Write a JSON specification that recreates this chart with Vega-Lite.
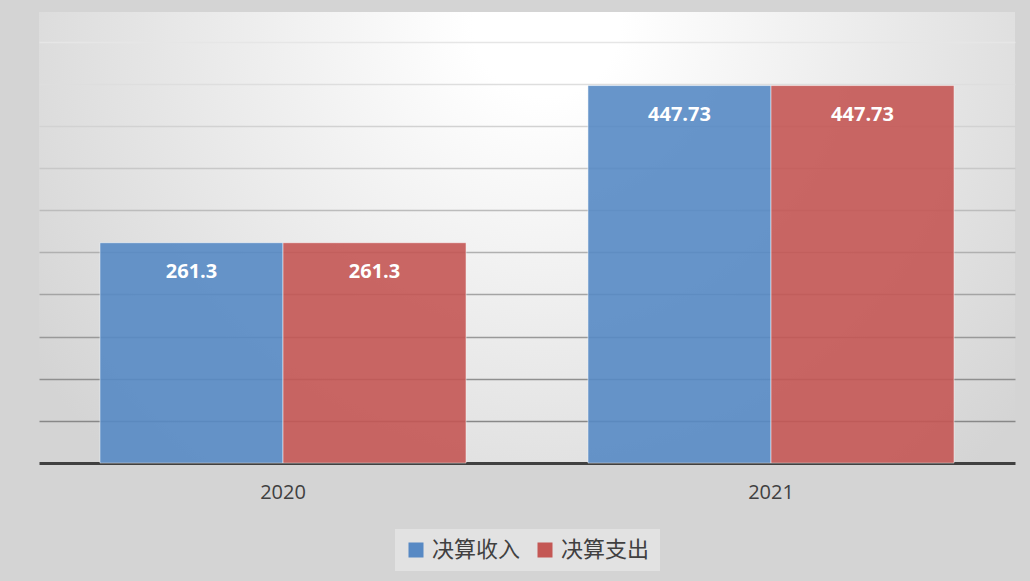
{
  "$schema": "https://vega.github.io/schema/vega-lite/v6.json",
  "autosize": {"type": "none"},
  "padding": {"left": 39, "top": 12, "right": 15, "bottom": 118},
  "width": 976,
  "height": 451,
  "background": "#d4d4d4",
  "data": {
    "values": [
      {"year": "2020", "type": "决算收入", "value": 261.3},
      {"year": "2020", "type": "决算支出", "value": 261.3},
      {"year": "2021", "type": "决算收入", "value": 447.73},
      {"year": "2021", "type": "决算支出", "value": 447.73}
    ]
  },
  "encoding": {
    "x": {
      "field": "year", "type": "nominal",
      "scale": {"paddingInner": 0, "paddingOuter": 0},
      "axis": {
        "title": null, "labelAngle": 0, "ticks": false,
        "domain": true, "domainColor": "#404040", "domainWidth": 3,
        "labelFont": "Open Sans", "labelFontSize": 20, "labelColor": "#404040",
        "labelPadding": 19, "grid": false
      }
    },
    "xOffset": {
      "field": "type", "type": "nominal",
      "scale": {"domain": ["决算收入", "决算支出"], "paddingInner": 0, "paddingOuter": 0.333}
    },
    "y": {
      "field": "value", "type": "quantitative",
      "scale": {"domain": [0, 535], "nice": false, "zero": true},
      "axis": {
        "title": null, "labels": false, "ticks": false, "domain": false,
        "minExtent": 0, "maxExtent": 0,
        "values": [50, 100, 150, 200, 250, 300, 350, 400, 450, 500],
        "grid": true, "gridWidth": 1.5,
        "gridColor": {
          "condition": [
            {"test": "datum.value >= 500", "value": "#e6e6e6"},
            {"test": "datum.value >= 450", "value": "#dedede"},
            {"test": "datum.value >= 400", "value": "#d2d2d2"},
            {"test": "datum.value >= 350", "value": "#c8c8c8"},
            {"test": "datum.value >= 300", "value": "#bcbcbc"},
            {"test": "datum.value >= 250", "value": "#b0b0b0"},
            {"test": "datum.value >= 200", "value": "#a4a4a4"},
            {"test": "datum.value >= 150", "value": "#999999"},
            {"test": "datum.value >= 100", "value": "#8f8f8f"}
          ],
          "value": "#888888"
        }
      }
    }
  },
  "layer": [
    {
      "mark": {"type": "bar", "fillOpacity": 0.9, "stroke": "#ffffff", "strokeOpacity": 0.5, "strokeWidth": 1},
      "encoding": {
        "color": {
          "field": "type", "type": "nominal",
          "scale": {"domain": ["决算收入", "决算支出"], "range": ["#5789C4", "#C45754"]},
          "legend": {
            "title": null, "orient": "none", "legendX": 356, "legendY": 517,
            "direction": "horizontal",
            "fillColor": "#e2e2e2", "padding": 10,
            "symbolType": "square", "symbolSize": 225, "symbolStrokeWidth": 0, "symbolOpacity": 1,
            "labelFont": "Noto Sans CJK SC", "labelFontSize": 22, "labelColor": "#404040",
            "labelOffset": 5, "columnPadding": 13
          }
        }
      }
    },
    {
      "mark": {"type": "text", "color": "#ffffff", "font": "Open Sans", "fontSize": 20, "fontWeight": "bold", "baseline": "middle", "dy": 29},
      "encoding": {
        "text": {"field": "value", "type": "quantitative"}
      }
    }
  ],
  "config": {
    "view": {
      "stroke": null,
      "fill": {
        "gradient": "radial",
        "x1": 0.52, "y1": 0.28, "r1": 0,
        "x2": 0.52, "y2": 0.28, "r2": 0.63,
        "stops": [
          {"offset": 0, "color": "#ffffff"},
          {"offset": 0.12, "color": "#ffffff"},
          {"offset": 1, "color": "#d4d4d4"}
        ]
      }
    }
  }
}
